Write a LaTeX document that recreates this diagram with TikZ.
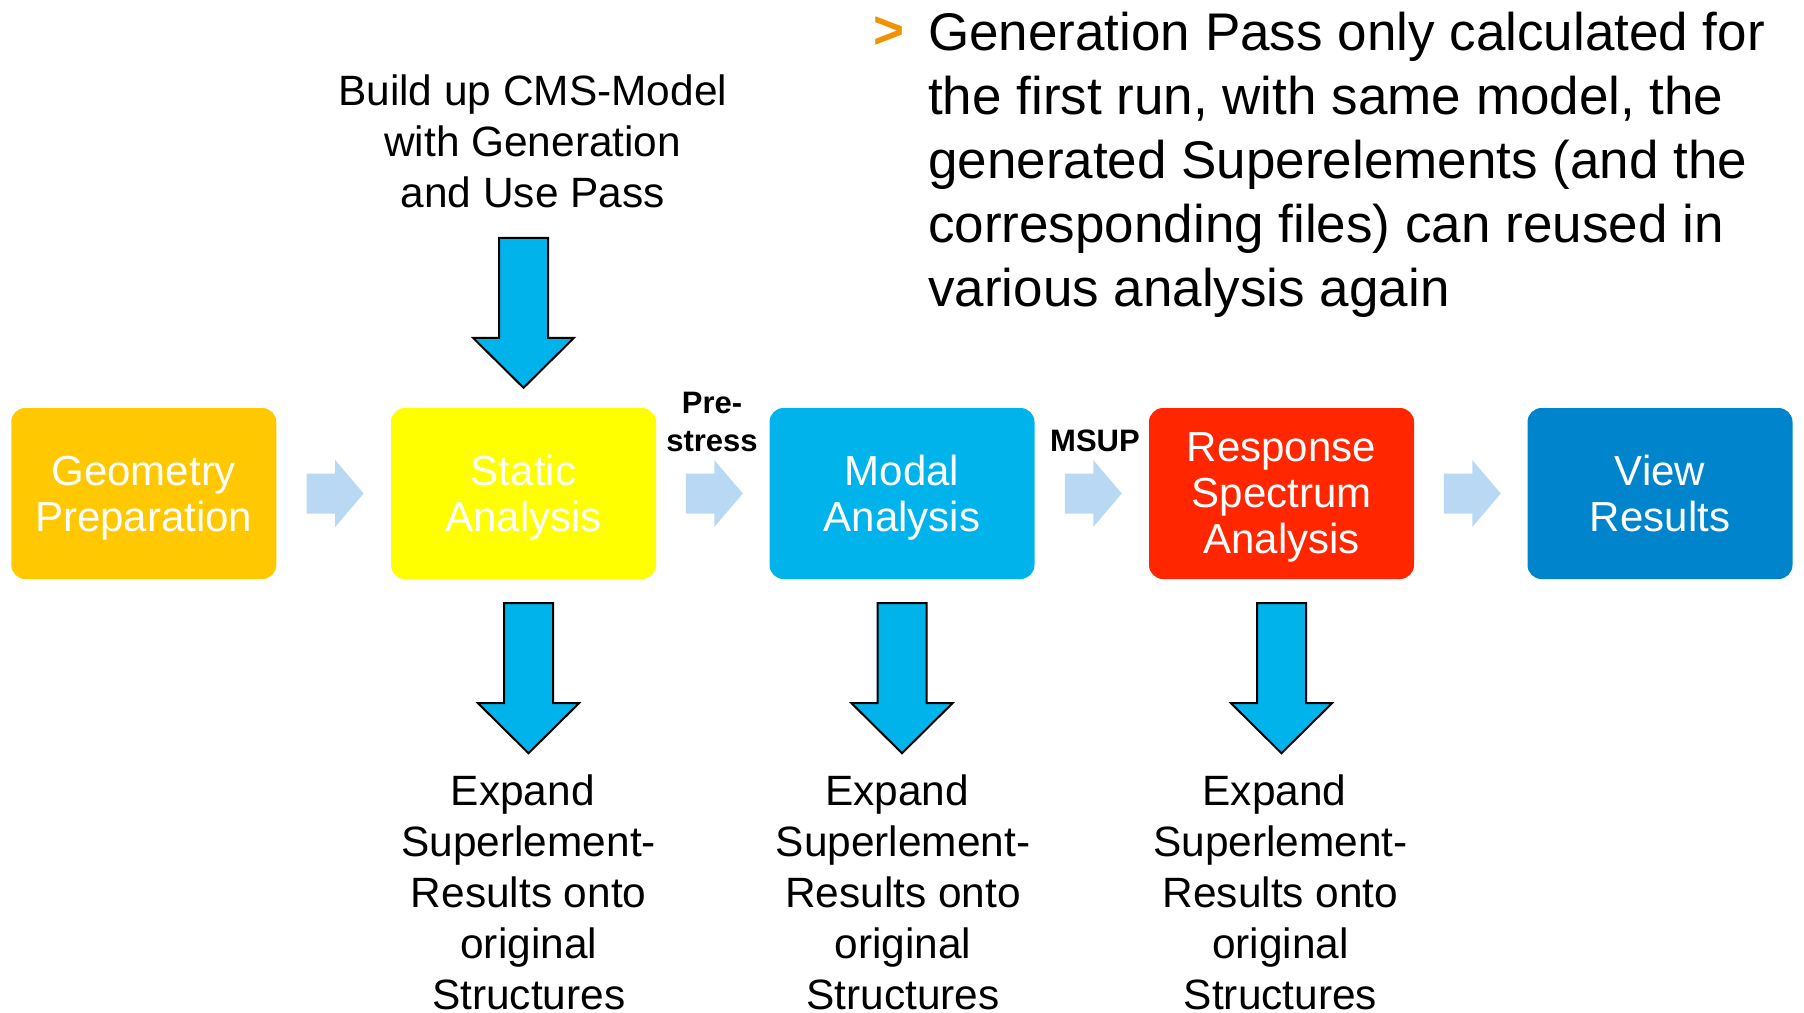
\documentclass[tikz,border=0pt]{standalone}
\usepackage{fontspec}
\setmainfont{Liberation Sans}
\usetikzlibrary{calc}
\definecolor{cGeo}{RGB}{255,200,0}
\definecolor{cStat}{RGB}{255,255,0}
\definecolor{cModal}{RGB}{0,180,235}
\definecolor{cResp}{RGB}{255,38,0}
\definecolor{cView}{RGB}{0,132,204}
\definecolor{cLight}{RGB}{185,216,243}
\definecolor{cOrange}{RGB}{243,146,0}
\begin{document}
\begin{tikzpicture}[x=1pt,y=-1pt,
  box/.style={rounded corners=14pt, minimum width=265pt, minimum height=171pt,
    inner sep=0pt, text=white, align=center, text depth=0pt, font=\fontsize{42}{46}\selectfont},
  bodytext/.style={align=center, inner sep=0pt, font=\fontsize{42.4}{51}\selectfont},
  lbl/.style={align=center, inner sep=0pt, font=\fontsize{31}{38}\selectfont\bfseries},
  lightarrow/.pic={\fill[cLight] (-28.5,-20) -- (0,-20) -- (0,-33.5) -- (28.5,0)
      -- (0,33.5) -- (0,20) -- (-28.5,20) -- cycle;},
  downarrow/.pic={\draw[fill=cModal, line width=2pt, line join=miter]
      (-24.5,-150) -- (24.5,-150) -- (24.5,-50) -- (50.5,-50) -- (0,0)
      -- (-50.5,-50) -- (-24.5,-50) -- cycle;}
]
\useasboundingbox (0,0) rectangle (1804,1012);

\node[box, fill=cGeo]   (geo)   at (143.8,493.5) {Geometry\\Preparation};
\node[box, fill=cStat]  (stat)  at (523.5,493.5) {Static\\Analysis};
\node[box, fill=cModal] (modal) at (902,493.5)   {Modal\\Analysis};
\node[box, fill=cResp]  (resp)  at (1281.5,493.5){Response\\Spectrum\\Analysis};
\node[box, fill=cView]  (view)  at (1660,493.5)  {View\\Results};

\pic at ($(geo.east)!0.5!(stat.west)+(1.5,0)$) {lightarrow};
\pic at ($(stat.east)!0.5!(modal.west)+(1.5,0)$) {lightarrow};
\pic at ($(modal.east)!0.5!(resp.west)+(1.5,0)$) {lightarrow};
\pic at ($(resp.east)!0.5!(view.west)+(1.5,0)$) {lightarrow};

\node[lbl] (pre) at (712,422) {Pre-\\stress};
\node[lbl] (msup) at (1095,441) {MSUP};

\node[bodytext] (build) at (532.7,141.5) {Build up CMS-Model\\with Generation\\and Use Pass};
\pic at ($(stat.north)+(0,-20)$) {downarrow};

\pic at ($(stat.south)+(5,174)$) {downarrow};
\pic at ($(modal.south)+(0,174)$) {downarrow};
\pic at ($(resp.south)+(0,174)$) {downarrow};

\node[bodytext] (exp1) at (528.7,892) {Expand\hspace*{0.28em}\\Superlement-\\Results onto\hspace*{0.28em}\\original\\Structures};
\node[bodytext] (exp2) at (903,892) {Expand\hspace*{0.28em}\\Superlement-\\Results onto\hspace*{0.28em}\\original\\Structures};
\node[bodytext] (exp3) at (1280.5,892) {Expand\hspace*{0.28em}\\Superlement-\\Results onto\hspace*{0.28em}\\original\\Structures};

\node[text=cOrange, inner sep=0pt, font=\fontsize{53}{64}\selectfont\bfseries] (bullet) at (889,33) {>};
\node[anchor=west, align=left, inner sep=0pt, font=\fontsize{53}{64}\selectfont] (note) at (928,164.5)
  {Generation Pass only calculated for\\the first run, with same model, the\\generated Superelements (and the\\corresponding files) can reused in\\various analysis again};
\end{tikzpicture}
\end{document}
